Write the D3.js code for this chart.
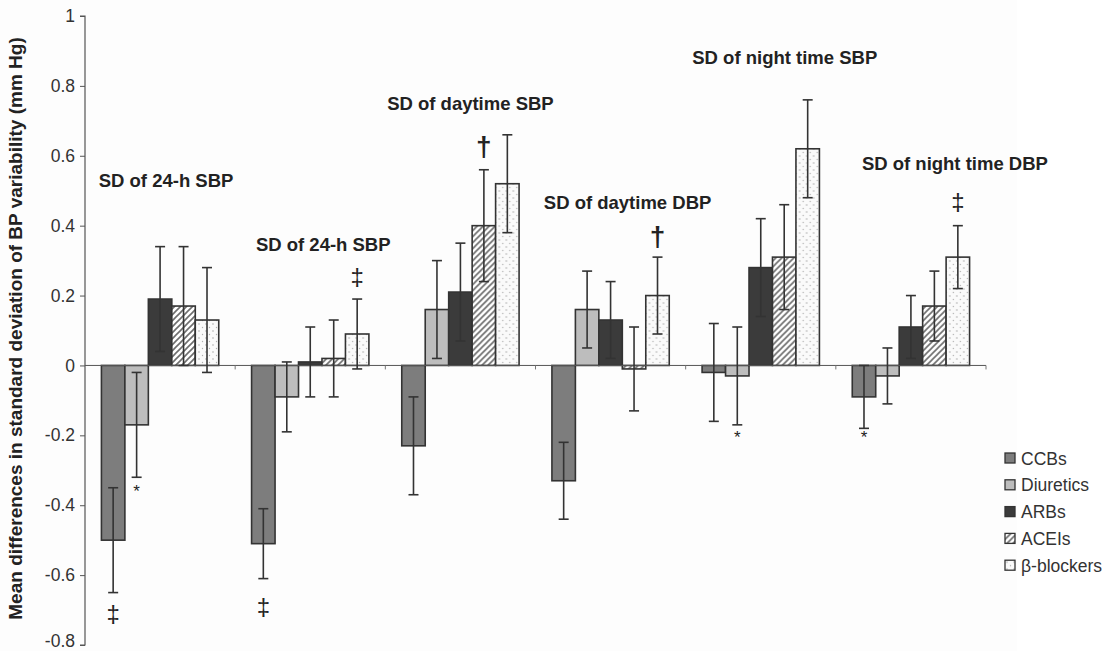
<!DOCTYPE html>
<html><head><meta charset="utf-8">
<script src="https://cdn.jsdelivr.net/npm/d3@7"></script>
<style>body{margin:0;background:#fff;} svg{display:block;font-family:Arial,"Liberation Sans",sans-serif;}</style>
</head><body>
<svg id="chart" width="1108" height="651"></svg>
<script>
const groups = ["SD of 24-h SBP","SD of 24-h SBP ","SD of daytime SBP","SD of daytime DBP","SD of night time SBP","SD of night time DBP"];
const series = ["CCBs","Diuretics","ARBs","ACEIs","β-blockers"];
const values = {
  "CCBs":      [-0.50,-0.51,-0.23,-0.33,-0.02,-0.09],
  "Diuretics": [-0.17,-0.09, 0.16, 0.16,-0.03,-0.03],
  "ARBs":      [ 0.19, 0.01, 0.21, 0.13, 0.28, 0.11],
  "ACEIs":     [ 0.17, 0.02, 0.40,-0.01, 0.31, 0.17],
  "β-blockers":[ 0.13, 0.09, 0.52, 0.20, 0.62, 0.31]
};
const errLow = {
  "CCBs":      [-0.65,-0.61,-0.37,-0.44,-0.16,-0.18],
  "Diuretics": [-0.32,-0.19, 0.02, 0.05,-0.17,-0.11],
  "ARBs":      [ 0.04,-0.09, 0.07, 0.02, 0.14, 0.02],
  "ACEIs":     [ 0.00,-0.09, 0.24,-0.13, 0.16, 0.07],
  "β-blockers":[-0.02,-0.01, 0.38, 0.09, 0.48, 0.22]
};
const errHigh = {
  "CCBs":      [-0.35,-0.41,-0.09,-0.22, 0.12, 0.00],
  "Diuretics": [-0.02, 0.01, 0.30, 0.27, 0.11, 0.05],
  "ARBs":      [ 0.34, 0.11, 0.35, 0.24, 0.42, 0.20],
  "ACEIs":     [ 0.34, 0.13, 0.56, 0.11, 0.46, 0.27],
  "β-blockers":[ 0.28, 0.19, 0.66, 0.31, 0.76, 0.40]
};
const yTicks = [1,0.8,0.6,0.4,0.2,0,-0.2,-0.4,-0.6,-0.8];
const groupLabelY = [0.53,0.345,0.75,0.466,0.88,0.577];
const groupLabelDx = [6,13,10,17,24,44];
const marks = [
  {g:0,s:"CCBs",y:-0.71,t:"‡"},
  {g:0,s:"Diuretics",y:-0.36,t:"*"},
  {g:1,s:"CCBs",y:-0.69,t:"‡"},
  {g:1,s:"β-blockers",y:0.254,t:"‡"},
  {g:2,s:"ACEIs",y:0.626,t:"†"},
  {g:3,s:"β-blockers",y:0.37,t:"†"},
  {g:4,s:"Diuretics",y:-0.205,t:"*"},
  {g:5,s:"CCBs",y:-0.205,t:"*"},
  {g:5,s:"β-blockers",y:0.47,t:"‡"}
];
const yTitle = "Mean differences in standard deviation of BP variability (mm Hg)";

const svg = d3.select("#chart");
const mLeft = 85, mRight = 986, mTop = 16, mBottom = 645;
const y = d3.scaleLinear().domain([-0.8,1]).range([mBottom, mTop]);
const x0 = d3.scaleBand().domain(groups).range([mLeft, mRight]).padding(0);
const x1 = d3.scaleBand().domain(series).range([0, x0.bandwidth()]).paddingInner(0).paddingOuter(0.7);

const defs = svg.append("defs");
const hatch = defs.append("pattern").attr("id","hatch").attr("patternUnits","userSpaceOnUse")
  .attr("width",6).attr("height",6);
hatch.append("rect").attr("width",6).attr("height",6).attr("fill","#fff");
hatch.append("path").attr("d","M-1,7 L7,-1 M-4,4 L4,-4 M2,10 L10,2").attr("stroke","#6e6e6e").attr("stroke-width",1.6);
const dots = defs.append("pattern").attr("id","dots").attr("patternUnits","userSpaceOnUse")
  .attr("width",7).attr("height",7);
dots.append("rect").attr("width",7).attr("height",7).attr("fill","#fafafa");
dots.append("circle").attr("cx",2).attr("cy",2).attr("r",0.7).attr("fill","#9a9a9a");
dots.append("circle").attr("cx",5.5).attr("cy",5.5).attr("r",0.7).attr("fill","#b0b0b0");

const fills = {"CCBs":"#7d7d7d","Diuretics":"#bdbdbd","ARBs":"#3b3b3b","ACEIs":"url(#hatch)","β-blockers":"url(#dots)"};

svg.append("rect").attr("x",0).attr("y",0).attr("width",1017).attr("height",651).attr("fill","#fdfdfd");

const yAxis = d3.axisLeft(y).tickValues(yTicks).tickSize(5).tickFormat(d => String(+d.toFixed(1)));
const ga = svg.append("g").attr("transform",`translate(${mLeft},0)`).call(yAxis);
ga.select(".domain").attr("stroke","#555").attr("stroke-width",1.2).attr("d",`M-5,${y(1)}H0V${y(-0.8)}H-5`);
ga.selectAll(".tick line").attr("stroke","#555");
ga.selectAll(".tick text").attr("font-size",17.5).attr("fill","#333").attr("x",-10)
  .attr("font-family","Arial,'Liberation Sans',sans-serif")
  .attr("dy", d => d === -0.8 ? "0.1em" : "0.32em");

svg.append("text").attr("transform",`translate(15,${(y(1)+y(-0.8))/2 - 2}) rotate(-90)`)
  .attr("text-anchor","middle").attr("dominant-baseline","central")
  .attr("font-size",19).attr("font-weight","bold").attr("fill","#222")
  .text(yTitle);

const gGroups = svg.append("g").selectAll("g").data(groups).join("g")
  .attr("transform", d => `translate(${x0(d)},0)`);
series.forEach(s => {
  gGroups.append("rect")
    .attr("x", x1(s)).attr("width", x1.bandwidth())
    .attr("y", (d,i) => y(Math.max(0, values[s][i])))
    .attr("height", (d,i) => Math.abs(y(values[s][i]) - y(0)))
    .attr("fill", fills[s]).attr("stroke","#333").attr("stroke-width",1.6);
});

svg.append("line").attr("x1",mLeft).attr("x2",mRight).attr("y1",y(0)).attr("y2",y(0)).attr("stroke","#555").attr("stroke-width",1);
groups.forEach((g,i) => {
  svg.append("line").attr("x1",x0(g)+x0.bandwidth()).attr("x2",x0(g)+x0.bandwidth())
    .attr("y1",y(0)).attr("y2",y(0)+4).attr("stroke","#777").attr("stroke-width",1);
});

series.forEach(s => {
  groups.forEach((g,i) => {
    const cx = x0(g) + x1(s) + x1.bandwidth()/2;
    const eg = svg.append("g").attr("stroke","#333").attr("stroke-width",1.6);
    eg.append("line").attr("x1",cx).attr("x2",cx).attr("y1",y(errLow[s][i])).attr("y2",y(errHigh[s][i]));
    eg.append("line").attr("x1",cx-5).attr("x2",cx+5).attr("y1",y(errLow[s][i])).attr("y2",y(errLow[s][i]));
    eg.append("line").attr("x1",cx-5).attr("x2",cx+5).attr("y1",y(errHigh[s][i])).attr("y2",y(errHigh[s][i]));
  });
});

marks.forEach(m => {
  const cx = x0(groups[m.g]) + x1(m.s) + x1.bandwidth()/2;
  svg.append("text").attr("x",cx).attr("y",y(m.y)).attr("text-anchor","middle").attr("dominant-baseline","central")
    .attr("font-family","'Liberation Sans',Arial,sans-serif")
    .attr("font-size", m.t === "*" ? 17 : (m.t === "†" ? 28 : 24)).attr("fill","#222")
    .attr("font-weight", m.t === "†" ? "bold" : "normal")
    .text(m.t);
});

groups.forEach((g,i) => {
  svg.append("text").attr("x", x0(g) + x0.bandwidth()/2 + groupLabelDx[i]).attr("y", y(groupLabelY[i]))
    .attr("text-anchor","middle").attr("dominant-baseline","central")
    .attr("font-size",18.5).attr("font-weight","bold").attr("fill","#222").text(g.trim());
});

const lg = svg.append("g").attr("transform","translate(1005,453)");
series.forEach((s,i) => {
  const row = lg.append("g").attr("transform",`translate(0,${i*26.8})`);
  row.append("rect").attr("x",0).attr("y",0).attr("width",10).attr("height",10)
    .attr("fill",fills[s]).attr("stroke","#333").attr("stroke-width",1.3);
  row.append("text").attr("x",16).attr("y",5.5).attr("dominant-baseline","central")
    .attr("font-size",17.5).attr("fill","#333").text(s);
});
</script>
</body></html>
